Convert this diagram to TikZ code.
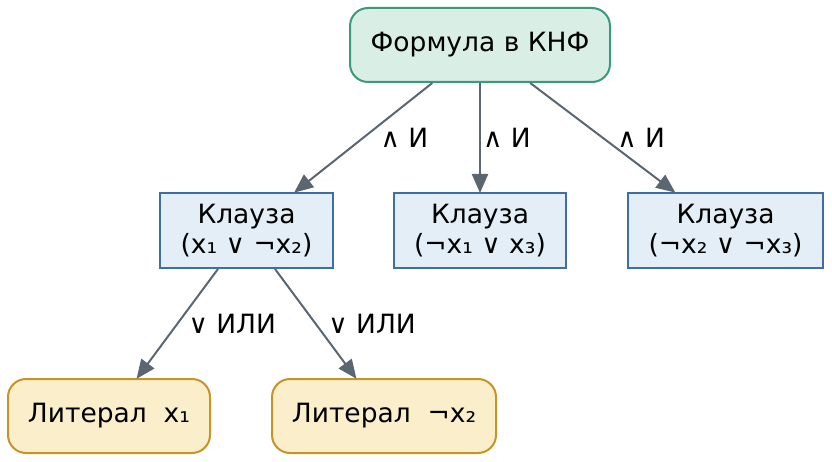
\documentclass[tikz,border=0pt]{standalone}
\usepackage{fontspec}
\setmainfont{DejaVu Sans}
\usetikzlibrary{arrows.meta,positioning}
\definecolor{rootFill}{HTML}{D9EEE4}
\definecolor{rootLine}{HTML}{3A9B7B}
\definecolor{clauseFill}{HTML}{E3EEF7}
\definecolor{clauseLine}{HTML}{3D6FA6}
\definecolor{litFill}{HTML}{FBEECB}
\definecolor{litLine}{HTML}{C79428}
\definecolor{edgeGray}{HTML}{5B6670}

\begin{document}
\begin{tikzpicture}[
    x=1pt, y=1pt,
    node distance=109pt and 59pt,
    font=\fontsize{26.5}{29.5}\selectfont,
    formula/.style={draw=rootLine, fill=rootFill, line width=2pt, rounded corners=18pt, minimum width=260pt, minimum height=74pt, align=center},
    clause/.style={draw=clauseLine, fill=clauseFill, line width=2pt, minimum height=75pt, align=center},
    literal/.style={draw=litLine, fill=litFill, line width=2pt, rounded corners=18pt, minimum height=74pt, align=center},
    arrow/.style={-{Triangle[length=19pt, width=16pt]}, draw=edgeGray, fill=edgeGray, line width=2pt, shorten >=-1pt},
    lab/.style={right, inner sep=2pt, text=black}
]
    \useasboundingbox (0,0) rectangle (832,-462);

    \node[formula] (cnf) at (480,-45) {Формула в КНФ};
    \node[clause, minimum width=172pt, below=of cnf] (c2) {Клауза\\(¬x₁ ∨ x₃)};
    \node[clause, minimum width=173pt, left=of c2] (c1) {Клауза\\(x₁ ∨ ¬x₂)};
    \node[clause, minimum width=195pt, right=60pt of c2] (c3) {Клауза\\(¬x₂ ∨ ¬x₃)};
    \node[literal, minimum width=202pt, below=of c1, xshift=-137.5pt] (l1) {Литерал \ x₁};
    \node[literal, minimum width=224pt, below=of c1, xshift=137.5pt] (l2) {Литерал \ ¬x₂};

    % conjunction
    \draw[arrow] (cnf) -- node[lab, xshift=14pt] {∧ И} (c1);
    \draw[arrow] (cnf) -- node[lab] {∧ И} (c2);
    \draw[arrow] (cnf) -- node[lab, xshift=12pt] {∧ И} (c3);

    % disjunction
    \draw[arrow] (c1) -- node[lab, xshift=8pt] {∨ ИЛИ} (l1);
    \draw[arrow] (c1) -- node[lab, xshift=10pt] {∨ ИЛИ} (l2);
\end{tikzpicture}
\end{document}
